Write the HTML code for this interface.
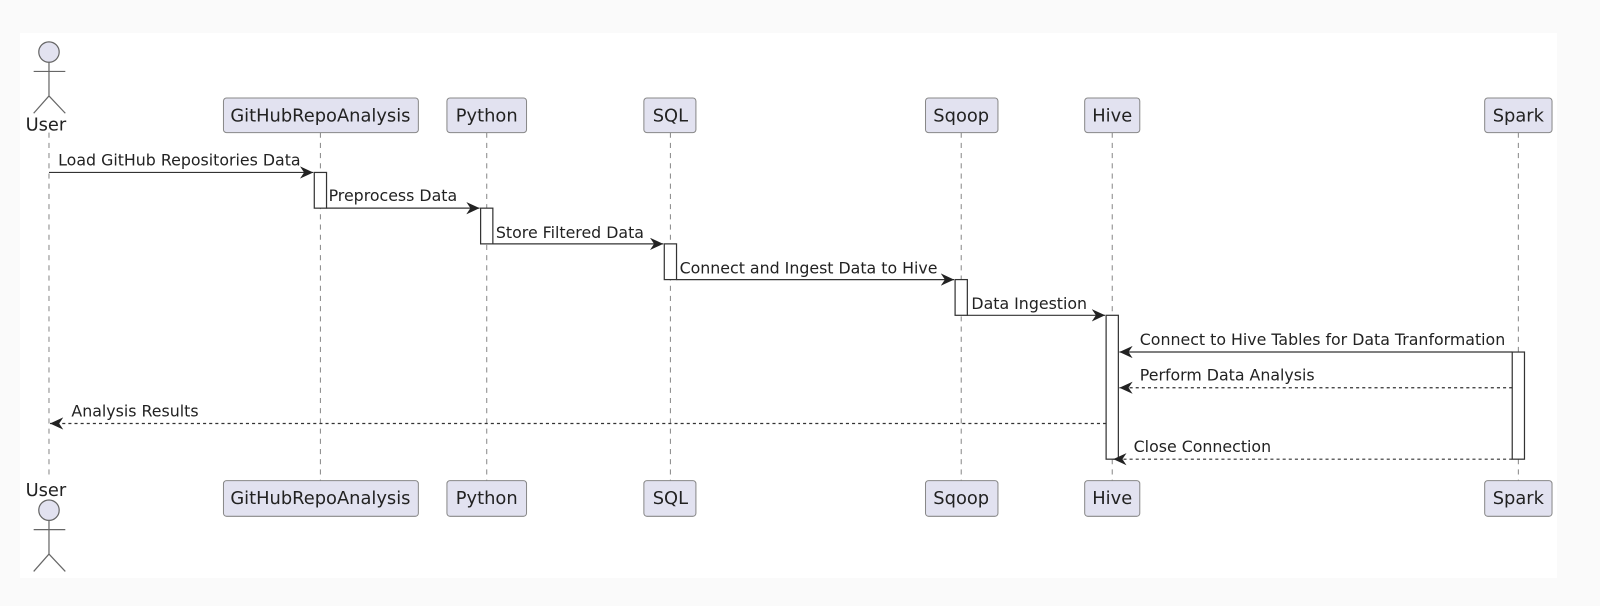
<!DOCTYPE html>
<html><head><meta charset="utf-8"><style>
html,body{margin:0;padding:0;background:#fafafa;}
svg{display:block;}
text{font-family:"DejaVu Sans","Liberation Sans",sans-serif;fill:#222;}
</style></head><body>
<svg width="1600" height="606" xmlns="http://www.w3.org/2000/svg">
<defs>
<marker id="a" markerWidth="14" markerHeight="12" refX="13" refY="6" orient="auto" markerUnits="userSpaceOnUse">
<path d="M0,0 L13,6 L0,12 L4,6 Z" fill="#222"/>
</marker>
</defs>
<rect x="0" y="0" width="1600" height="606" fill="#fafafa"/>
<rect x="20" y="33" width="1537" height="545" fill="#ffffff"/>
<g transform="scale(1.0204)">
<g stroke="#888" stroke-width="1" stroke-dasharray="5,5">
<line x1="48" y1="130" x2="48" y2="470"/>
<line x1="314" y1="130" x2="314" y2="471"/>
<line x1="477" y1="130" x2="477" y2="471"/>
<line x1="657" y1="130" x2="657" y2="471"/>
<line x1="942" y1="130" x2="942" y2="471"/>
<line x1="1090" y1="130" x2="1090" y2="471"/>
<line x1="1488" y1="130" x2="1488" y2="471"/>
</g>
<g fill="#e2e2f0" stroke="#888" stroke-width="1">
<rect x="219" y="96" width="191" height="34" rx="3"/>
<rect x="438" y="96" width="78" height="34" rx="3"/>
<rect x="631" y="96" width="51" height="34" rx="3"/>
<rect x="907" y="96" width="71" height="34" rx="3"/>
<rect x="1063" y="96" width="54" height="34" rx="3"/>
<rect x="1455" y="96" width="66" height="34" rx="3"/>
<rect x="219" y="471" width="191" height="35" rx="3"/>
<rect x="438" y="471" width="78" height="35" rx="3"/>
<rect x="631" y="471" width="51" height="35" rx="3"/>
<rect x="907" y="471" width="71" height="35" rx="3"/>
<rect x="1063" y="471" width="54" height="35" rx="3"/>
<rect x="1455" y="471" width="66" height="35" rx="3"/>
</g>
<g font-size="17.5" text-anchor="middle">
<text x="314" y="119">GitHubRepoAnalysis</text>
<text x="477" y="119">Python</text>
<text x="657" y="119">SQL</text>
<text x="942" y="119">Sqoop</text>
<text x="1090" y="119">Hive</text>
<text x="1488" y="119">Spark</text>
<text x="314" y="494">GitHubRepoAnalysis</text>
<text x="477" y="494">Python</text>
<text x="657" y="494">SQL</text>
<text x="942" y="494">Sqoop</text>
<text x="1090" y="494">Hive</text>
<text x="1488" y="494">Spark</text>
<text x="45" y="128">User</text>
<text x="45" y="486">User</text>
</g>
<g stroke="#666" stroke-width="1.2" fill="none">
<circle cx="48" cy="51" r="10" fill="#e2e2f0"/>
<line x1="48" y1="61" x2="48" y2="94"/><line x1="33" y1="70" x2="64" y2="70"/>
<line x1="48" y1="94" x2="33" y2="111"/><line x1="48" y1="94" x2="64" y2="111"/>
<circle cx="48" cy="500" r="10" fill="#e2e2f0"/>
<line x1="48" y1="510" x2="48" y2="543"/><line x1="33" y1="519" x2="64" y2="519"/>
<line x1="48" y1="543" x2="33" y2="560"/><line x1="48" y1="543" x2="64" y2="560"/>
</g>
<g fill="#fff" stroke="#333" stroke-width="1.2">
<rect x="308" y="169" width="12" height="35"/>
<rect x="471" y="204" width="12" height="35"/>
<rect x="651" y="239" width="12" height="35"/>
<rect x="936" y="274" width="12" height="35"/>
<rect x="1084" y="309" width="12" height="141"/>
<rect x="1482" y="345" width="12" height="105"/>
</g>
<g stroke="#333" stroke-width="1.2" marker-end="url(#a)">
<line x1="48" y1="169" x2="307" y2="169"/>
<line x1="320" y1="204" x2="470" y2="204"/>
<line x1="483" y1="239" x2="650" y2="239"/>
<line x1="663" y1="274" x2="935" y2="274"/>
<line x1="948" y1="309" x2="1083" y2="309"/>
<line x1="1482" y1="345" x2="1097" y2="345"/>
<line x1="1482" y1="380" x2="1097" y2="380" stroke-dasharray="3,3"/>
<line x1="1084" y1="415" x2="49" y2="415" stroke-dasharray="3,3"/>
<line x1="1482" y1="450" x2="1091" y2="450" stroke-dasharray="3,3"/>
</g>
<g font-size="15.5">
<text x="57" y="162">Load GitHub Repositories Data</text>
<text x="322" y="197">Preprocess Data</text>
<text x="486" y="233">Store Filtered Data</text>
<text x="666" y="268">Connect and Ingest Data to Hive</text>
<text x="952" y="303">Data Ingestion</text>
<text x="1117" y="338">Connect to Hive Tables for Data Tranformation</text>
<text x="1117" y="373">Perform Data Analysis</text>
<text x="70" y="408">Analysis Results</text>
<text x="1111" y="443">Close Connection</text>
</g>
</g>
</svg>
</body></html>
